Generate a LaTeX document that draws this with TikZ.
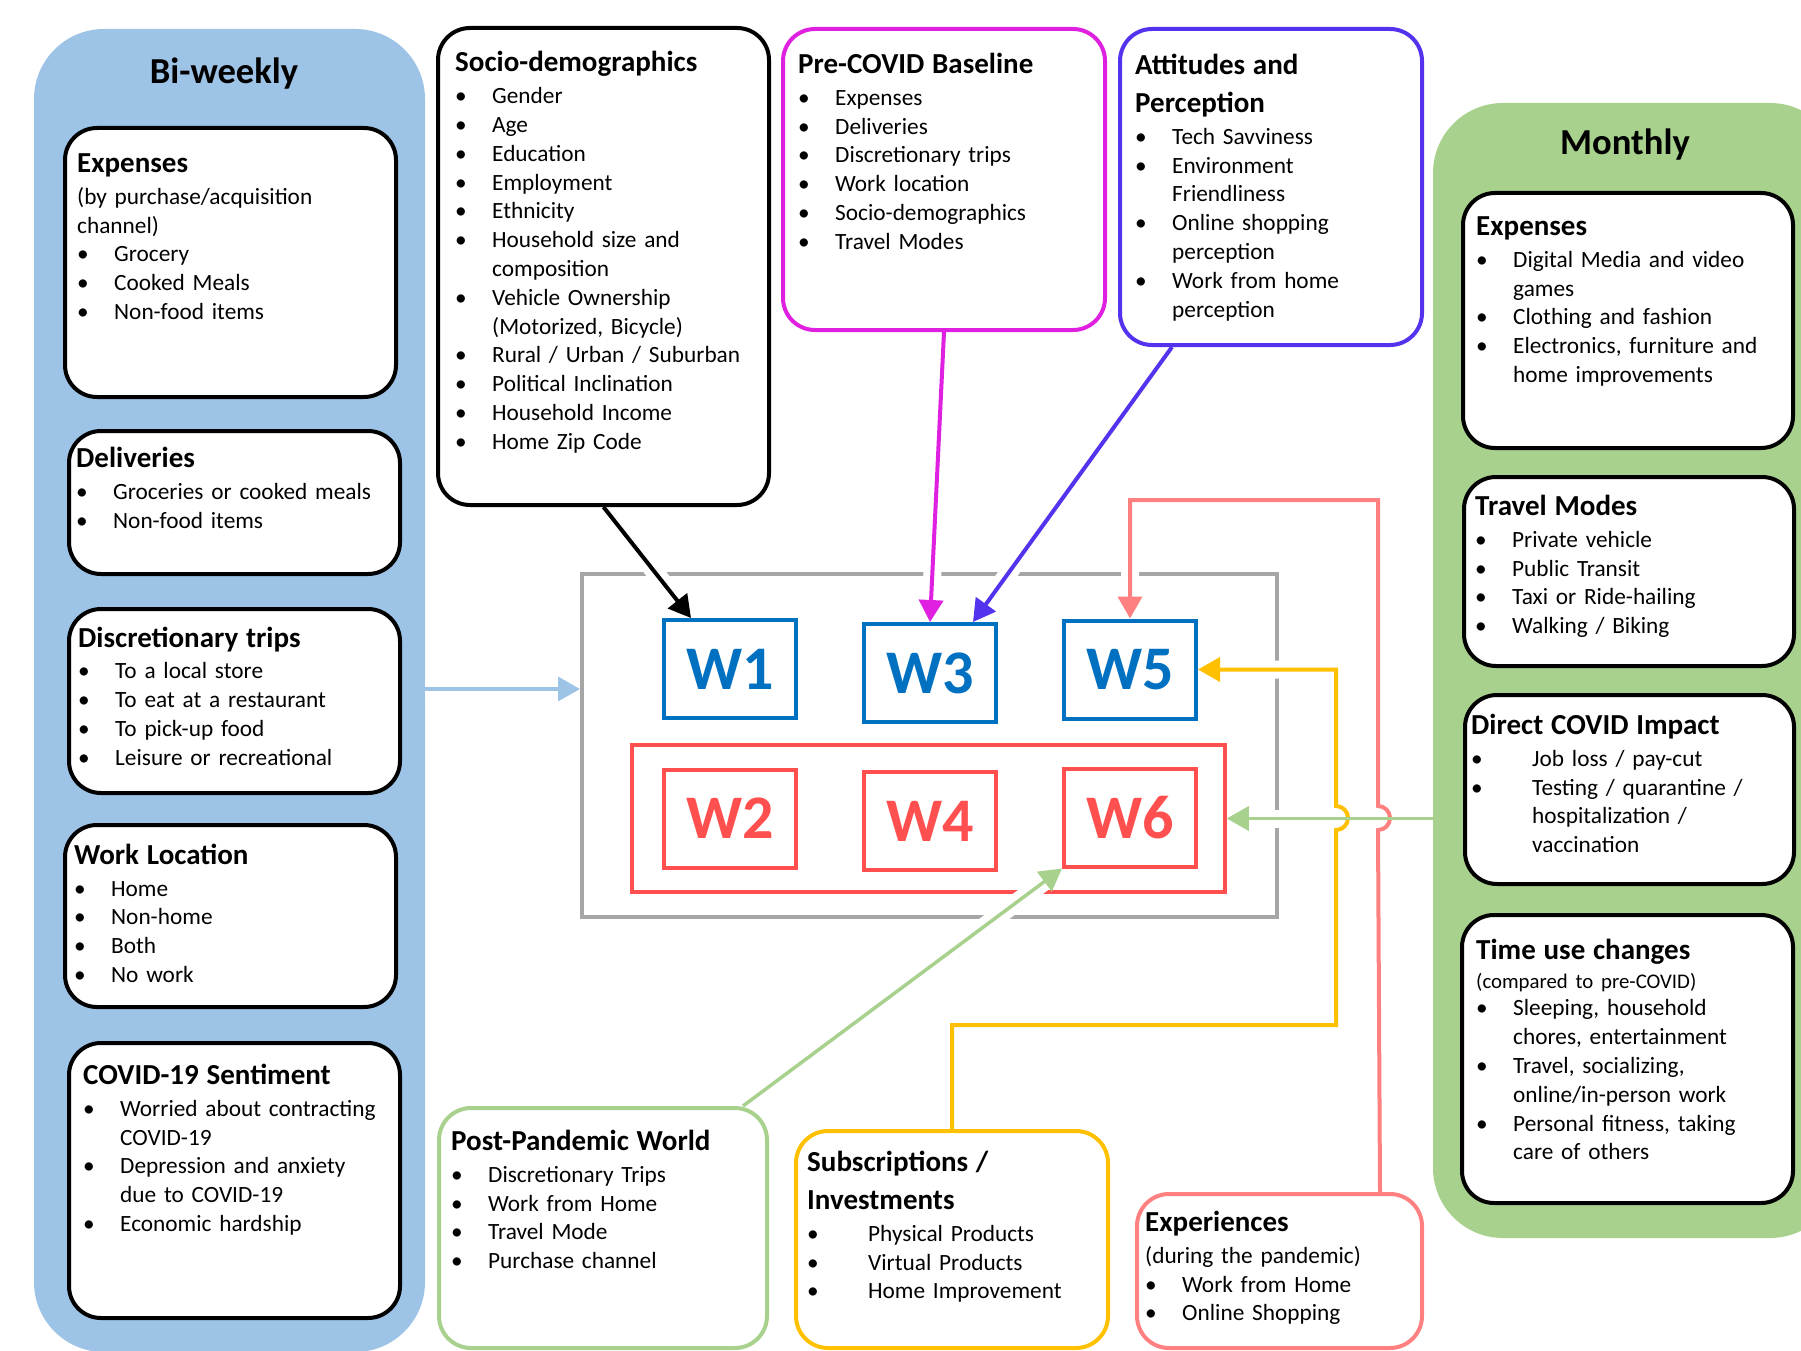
\documentclass[tikz,border=0pt]{standalone}
\usepackage{fontspec}
\setmainfont{Carlito}
\usetikzlibrary{arrows.meta,calc}
\definecolor{bwblue}{HTML}{9DC3E6}
\definecolor{mgreen}{HTML}{A9D18E}
\definecolor{wblue}{HTML}{0070C0}
\definecolor{wred}{HTML}{FF4F4F}
\definecolor{gframe}{HTML}{A6A6A6}
\definecolor{magc}{HTML}{E020E0}
\definecolor{purc}{HTML}{5533EE}
\definecolor{yelc}{HTML}{FFC000}
\definecolor{pinkc}{HTML}{FF8080}
\pgfdeclarelayer{bg}
\pgfdeclarelayer{halo}
\pgfdeclarelayer{conn}
\pgfsetlayers{bg,halo,conn,main}
\newcommand\hd[1]{\noindent{\fontsize{29}{38}\selectfont\bfseries\rule{0pt}{22pt}#1\par}\vspace{3pt}}
\newcommand\itm[1]{\noindent\hangindent=37pt\hangafter=1\makebox[37pt][l]{\textbullet}#1\par}
\newcommand\itmw[1]{\noindent\hangindent=61pt\hangafter=1\makebox[61pt][l]{\textbullet}#1\par}
\newcommand\pl[1]{\noindent #1\par}
\newcommand\rbox[6]{\node[#1, minimum width={(#5-#3)*1pt}, minimum height={(#6-#4)*1pt}] (#2) at ({(#3+#5)/2},{(#4+#6)/2}) {};}
\begin{document}
\begin{tikzpicture}[x=1pt,y=-1pt,
  bx/.style={draw, line width=4pt, fill=white, rounded corners=32pt, inner sep=0pt},
  panel/.style={draw=none, rounded corners=70pt, inner sep=0pt},
  txt/.style={anchor=north west, inner sep=0pt, text width=360pt, align=left, font=\fontsize{23.3}{28.8}\selectfont},
  ttl/.style={anchor=base, inner sep=0pt, font=\fontsize{36.6}{44}\selectfont\bfseries},
  wb/.style={draw=wblue, line width=4pt, fill=white, text=wblue, minimum width=132pt, minimum height=98pt, inner sep=0pt, font=\fontsize{62}{70}\selectfont\bfseries},
  wr/.style={wb, draw=wred, text=wred},
  conn/.style={line width=4pt, -{Triangle[length=22pt,width=24pt]}},
  halo/.style={draw=white, line width=18pt, shorten >=6pt}]
\useasboundingbox (0,0) rectangle (1801,1351);
% panels and frames
\begin{pgfonlayer}{bg}
\fill[white] (0,0) rectangle (1801,1351);
\rbox{panel, fill=bwblue}{bw}{34}{29}{425}{1352}
\rbox{panel, fill=mgreen}{mon}{1433}{103}{1840}{1238}
\rbox{draw=gframe, line width=4pt}{gfr}{582}{574}{1277}{917}
\rbox{draw=wred, line width=3.5pt}{rfr}{632}{745}{1225}{892}
\end{pgfonlayer}
\node[ttl] (bwt) at (224,83.8) {Bi-weekly};
\node[ttl] (mont) at (1625,154.8) {Monthly};
% left column
\rbox{bx}{bexp}{65}{128}{396}{397}
\rbox{bx}{bdel}{69}{431}{400}{574}
\rbox{bx}{btrip}{69}{609}{400}{793}
\rbox{bx}{bwork}{65}{825}{396}{1007}
\rbox{bx}{bsent}{69}{1043}{400}{1318}
\node[txt] (bexpt) at (77,150.3) {\hd{Expenses}\pl{(by purchase/acquisition\newline channel)}\itm{Grocery}\itm{Cooked Meals}\itm{Non-food items}};
\node[txt] (bdelt) at (76,445.6) {\hd{Deliveries}\itm{Groceries or cooked meals}\itm{Non-food items}};
\node[txt] (btript) at (78,624.8) {\hd{Discretionary trips}\itm{To a local store}\itm{To eat at a restaurant}\itm{To pick-up food}\itm{Leisure or recreational}};
\node[txt] (bworkt) at (74,842) {\hd{Work Location}\itm{Home}\itm{Non-home}\itm{Both}\itm{No work}};
\node[txt] (bsentt) at (83,1062.3) {\hd{COVID-19 Sentiment}\itm{Worried about contracting\newline COVID-19}\itm{Depression and anxiety\newline due to COVID-19}\itm{Economic hardship}};
% top and bottom boxes
\rbox{bx}{soc}{438}{28}{769}{505}
\rbox{bx, draw=magc}{pre}{783}{29}{1105}{330}
\rbox{bx, draw=purc}{att}{1120}{29}{1422}{345}
\rbox{bx, draw=mgreen}{post}{439}{1108}{767}{1348}
\rbox{bx, draw=yelc}{subs}{796}{1131}{1108}{1348}
\rbox{bx, draw=pinkc}{exp}{1137}{1194}{1422}{1348}
\node[txt] (soct) at (455,49.7) {\hd{Socio-demographics}\itm{Gender}\itm{Age}\itm{Education}\itm{Employment}\itm{Ethnicity}\itm{Household size and\newline composition}\itm{Vehicle Ownership\newline (Motorized, Bicycle)}\itm{Rural / Urban / Suburban}\itm{Political Inclination}\itm{Household Income}\itm{Home Zip Code}};
\node[txt] (pret) at (798,51.3) {\hd{Pre-COVID Baseline}\itm{Expenses}\itm{Deliveries}\itm{Discretionary trips}\itm{Work location}\itm{Socio-demographics}\itm{Travel Modes}};
\node[txt] (attt) at (1135,52.3) {\hd{Attitudes and\newline Perception}\itm{Tech Savviness}\itm{Environment\newline Friendliness}\itm{Online shopping\newline perception}\itm{Work from home\newline perception}};
\node[txt] (postt) at (451,1128.3) {\hd{Post-Pandemic World}\itm{Discretionary Trips}\itm{Work from Home}\itm{Travel Mode}\itm{Purchase channel}};
\node[txt] (subst) at (807,1149.3) {\hd{Subscriptions /\newline Investments}\itmw{Physical Products}\itmw{Virtual Products}\itmw{Home Improvement}};
\node[txt] (expt) at (1145,1209.3) {\hd{Experiences}\pl{(during the pandemic)}\itm{Work from Home}\itm{Online Shopping}};
% monthly boxes
\rbox{bx}{mexp}{1463}{193}{1793}{448}
\rbox{bx}{mtrav}{1464}{477}{1794}{666}
\rbox{bx}{mimp}{1465}{695}{1794}{884}
\rbox{bx}{mtime}{1462}{915}{1793}{1203}
\node[txt] (mexpt) at (1476,213.3) {\hd{Expenses}\itm{Digital Media and video\newline games}\itm{Clothing and fashion}\itm{Electronics, furniture and\newline home improvements}};
\node[txt] (mtravt) at (1475,493.3) {\hd{Travel Modes}\itm{Private vehicle}\itm{Public Transit}\itm{Taxi or Ride-hailing}\itm{Walking / Biking}};
\node[txt] (mimpt) at (1471,712.3) {\hd{Direct COVID Impact}\itmw{Job loss / pay-cut}\itmw{Testing / quarantine /\newline hospitalization /\newline vaccination}};
\node[txt] (mtimet) at (1476,937.3) {\hd{Time use changes}{\fontsize{20.8}{26}\selectfont\noindent(compared to pre-COVID)\par}\vspace{-1.5pt}\itm{Sleeping, household\newline chores, entertainment}\itm{Travel, socializing,\newline online/in-person work}\itm{Personal fitness, taking\newline care of others}};
% waves
\node[wb] (w1) at (730,669) {W1};
\node[wb] (w3) at (930,673) {W3};
\node[wb] (w5) at (1130,669.5) {W5};
\node[wr] (w2) at (730,818.5) {W2};
\node[wr] (w4) at (930,821) {W4};
\node[wr] (w6) at (1130,817.5) {W6};
% helper coordinates
\coordinate (lb) at (500,689);
\coordinate (ptop) at (1378,500);
\coordinate (phop) at (1378,830);
\coordinate (ybot) at (1336,1025);
\coordinate (yhop) at (1336,830);
% connector paths
\def\pA{(soc.south) -- ([xshift=29pt]w1.north west)}
\def\pB{(pre.south) -- (w3.north)}
\def\pC{([xshift=54pt]att.south west) -- ([xshift=-25pt]w3.north east)}
\def\pD{([xshift=-44pt]exp.north east) -- (phop) arc[start angle=90,end angle=-90,radius=12] -- (ptop) -| (w5.north)}
\def\pE{(subs.north) |- (ybot) -- (yhop) arc[start angle=90,end angle=-90,radius=12] |- (w5.east)}
\def\pF{(mon.west |- rfr.east) -- (rfr.east)}
\def\pG{([xshift=-26pt]post.north east) -- (w6.south west)}
\def\pH{(bw.east |- lb) -- (gfr.west |- lb)}
\begin{pgfonlayer}{halo}
\foreach \p in {\pA,\pB,\pC,\pD,\pE,\pF,\pG,\pH} {\draw[halo] \p;}
\end{pgfonlayer}
\begin{pgfonlayer}{conn}
\draw[conn, black] \pA;
\draw[conn, magc] \pB;
\draw[conn, purc] \pC;
\draw[conn, pinkc] \pD;
\draw[conn, yelc] \pE;
\draw[conn, mgreen, line width=3.5pt] \pF;
\draw[conn, mgreen, line width=3.5pt] \pG;
\draw[conn, bwblue, line width=3.5pt] \pH;
\end{pgfonlayer}
\end{tikzpicture}
\end{document}
